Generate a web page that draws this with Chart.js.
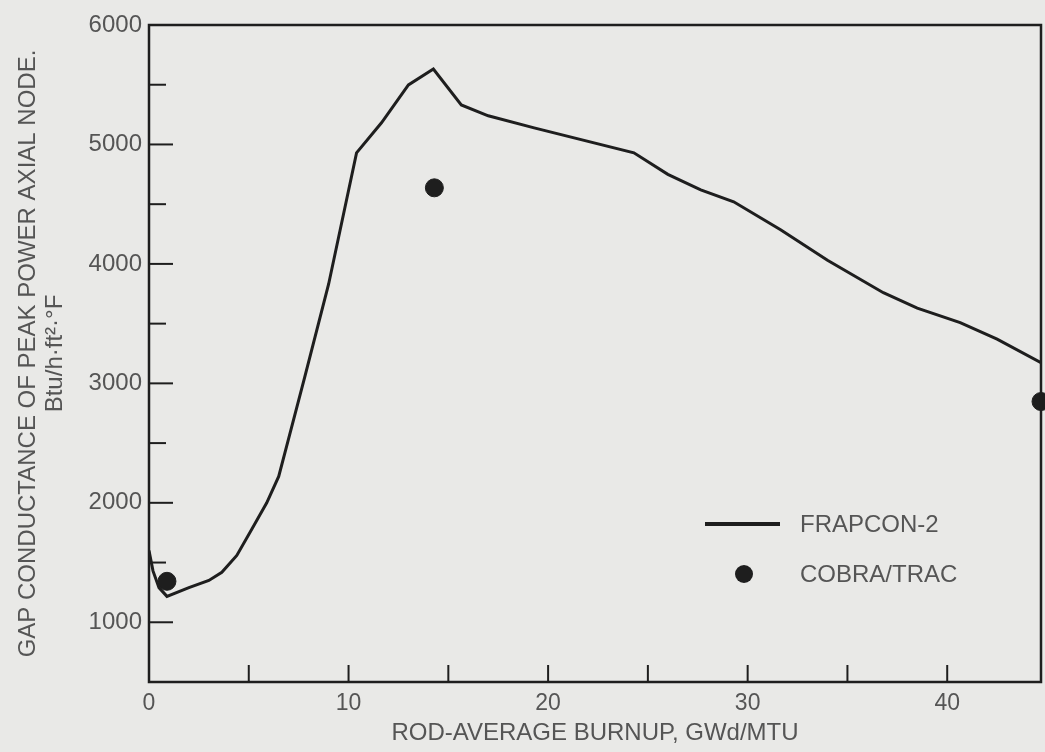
<!DOCTYPE html>
<html>
<head>
<meta charset="utf-8">
<script src="https://cdn.jsdelivr.net/npm/chart.js@4"></script>
<style>
  html, body { margin: 0; padding: 0; background: #e9e9e7; }
  #wrap { width: 1045px; height: 752px; }
</style>
</head>
<body>
<div id="wrap"><canvas id="chart" width="1045" height="752"></canvas></div>
<script>
    // FRAPCON-2 curve
    const frapconBurnup = [0, 0.2, 0.5, 0.9, 2.0, 3.0, 3.65, 4.4, 5.15, 5.9, 6.5, 7.0, 7.8, 9.0, 10.4, 11.65, 13.0, 14.25, 15.65, 17.0, 19.3, 24.3, 26.0, 27.65, 29.3, 31.65, 34.0, 36.8, 38.5, 40.65, 42.5, 44.7];
    const frapconGap = [1600, 1430, 1290, 1217, 1290, 1350, 1418, 1560, 1778, 2000, 2221, 2540, 3050, 3830, 4930, 5181, 5498, 5632, 5331, 5240, 5139, 4930, 4750, 4620, 4520, 4286, 4030, 3759, 3630, 3508, 3370, 3174];

    // COBRA/TRAC points
    const cobraBurnup = [0.9, 14.3, 44.7];
    const cobraGap = [1343, 4637, 2848];

    const xMin = 0, xMax = 44.7;
    const yMin = 500, yMax = 6000;

    const ink = '#1e1e1e';
    const textColor = '#555';
    const fontFamily = '"Liberation Sans", Arial, sans-serif';

    const insideTicks = {
        id: 'insideTicks',
        afterDraw(chart) {
            const ctx = chart.ctx;
            const a = chart.chartArea;
            const xs = chart.scales.x, ys = chart.scales.y;
            ctx.save();
            ctx.strokeStyle = ink;
            ctx.lineWidth = 2.5;
            ctx.strokeRect(a.left, a.top, a.right - a.left, a.bottom - a.top);
            ctx.lineWidth = 2;
            xs.ticks.forEach(t => {
                if (t.value % 5 !== 0 || t.value === 0) return;
                const px = xs.getPixelForValue(t.value);
                ctx.beginPath();
                ctx.moveTo(px, a.bottom);
                ctx.lineTo(px, a.bottom - 17);
                ctx.stroke();
            });
            ys.ticks.forEach(t => {
                if (t.value % 500 !== 0 || t.value === yMin || t.value === yMax) return;
                const py = ys.getPixelForValue(t.value);
                const len = t.value % 1000 === 0 ? 24 : 17;
                ctx.beginPath();
                ctx.moveTo(a.left, py);
                ctx.lineTo(a.left + len, py);
                ctx.stroke();
            });

            // legend, inside the plot
            const lx = a.left + 556, ly = a.top + 499;
            ctx.lineWidth = 4;
            ctx.beginPath();
            ctx.moveTo(lx, ly);
            ctx.lineTo(lx + 75, ly);
            ctx.stroke();
            ctx.fillStyle = ink;
            ctx.beginPath();
            ctx.arc(lx + 39, ly + 50, 9, 0, Math.PI * 2);
            ctx.fill();
            ctx.fillStyle = textColor;
            ctx.font = '24px ' + fontFamily;
            ctx.textBaseline = 'middle';
            ctx.textAlign = 'left';
            ctx.fillText('FRAPCON-2', lx + 95, ly + 1);
            ctx.fillText('COBRA/TRAC', lx + 95, ly + 51);
            ctx.restore();
        }
    };

    new Chart(document.querySelector('#chart').getContext('2d'), {
        type: 'scatter',
        data: {
            datasets: [
                {
                    label: 'FRAPCON-2',
                    data: frapconBurnup.map((x, i) => ({ x: x, y: frapconGap[i] })),
                    showLine: true,
                    borderColor: ink,
                    borderWidth: 3,
                    pointRadius: 0,
                    tension: 0
                },
                {
                    label: 'COBRA/TRAC',
                    data: cobraBurnup.map((x, i) => ({ x: x, y: cobraGap[i] })),
                    backgroundColor: ink,
                    borderColor: ink,
                    pointRadius: 9,
                    clip: false
                }
            ]
        },
        options: {
            responsive: false,
            animation: false,
            layout: { autoPadding: false, padding: { top: 25, right: 4, left: 0, bottom: 0 } },
            plugins: {
                legend: { display: false },
                tooltip: { enabled: false }
            },
            scales: {
                x: {
                    type: 'linear',
                    min: xMin,
                    max: xMax,
                    grid: { display: false, drawTicks: false },
                    border: { display: false },
                    ticks: {
                        stepSize: 5,
                        includeBounds: false,
                        autoSkip: false,
                        maxRotation: 0,
                        padding: 8,
                        color: textColor,
                        font: { family: fontFamily, size: 23 },
                        callback: v => (v % 10 === 0 ? String(v) : '')
                    },
                    title: {
                        display: true,
                        text: 'ROD-AVERAGE BURNUP, GWd/MTU',
                        color: textColor,
                        font: { family: fontFamily, size: 24 },
                        padding: { top: 0, bottom: 4 }
                    },
                    afterFit: s => { s.height = 70; s.paddingRight = 0; }
                },
                y: {
                    type: 'linear',
                    min: yMin,
                    max: yMax,
                    grid: { display: false, drawTicks: false },
                    border: { display: false },
                    ticks: {
                        stepSize: 500,
                        autoSkip: false,
                        padding: 7,
                        color: textColor,
                        font: { family: fontFamily, size: 24 },
                        callback: v => (v % 1000 === 0 ? String(v) : '')
                    },
                    title: {
                        display: true,
                        text: ['GAP CONDUCTANCE OF PEAK POWER AXIAL NODE.', 'Btu/h\u00b7ft\u00b2\u00b7\u00b0F'],
                        color: textColor,
                        font: { family: fontFamily, size: 24, lineHeight: 1.13 },
                        padding: { top: 15, bottom: 0 }
                    },
                    afterFit: s => { s.width = 149; }
                }
            }
        },
        plugins: [insideTicks]
    });
</script>
</body>
</html>
